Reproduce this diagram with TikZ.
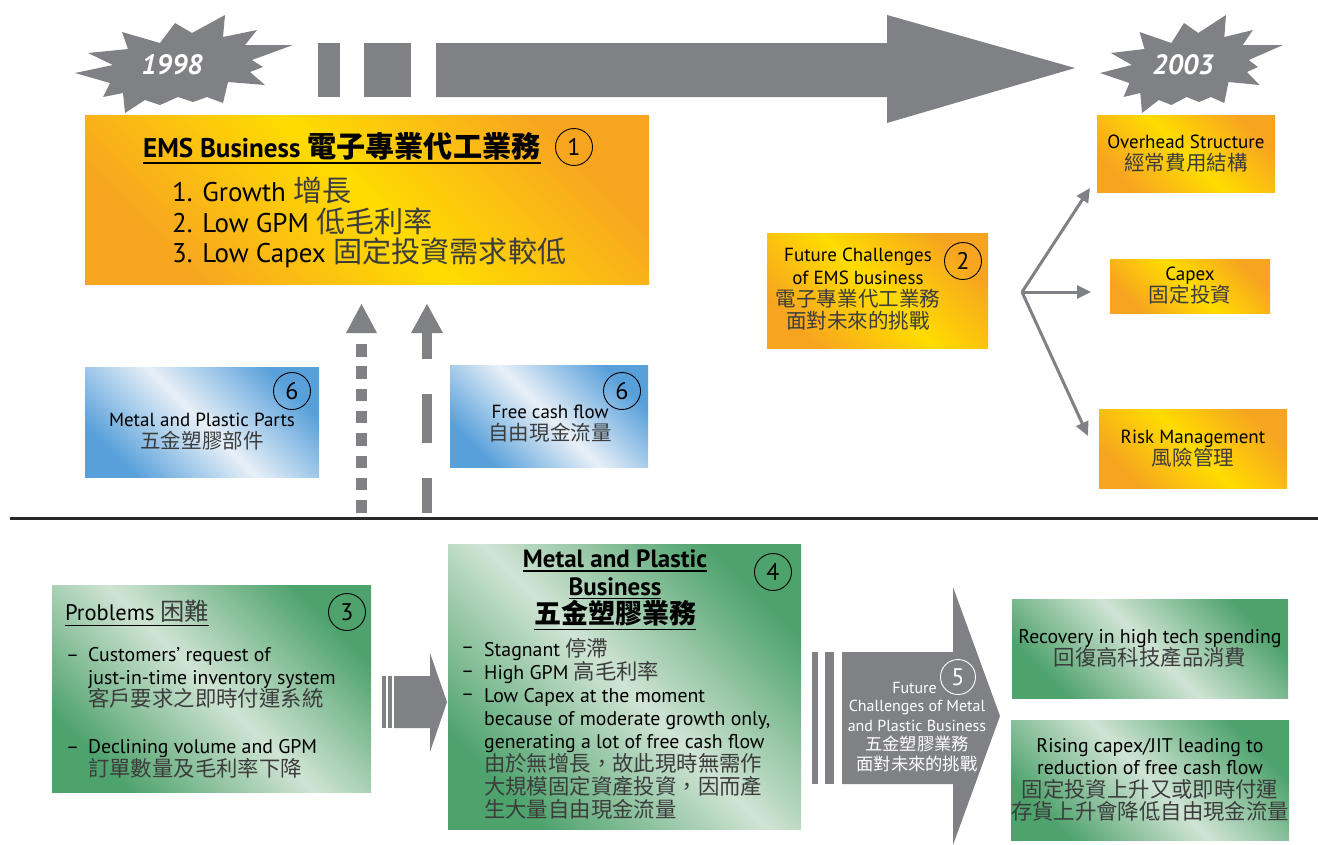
\documentclass[tikz,border=0pt]{standalone}
\usepackage{fontspec}
\setmainfont{PT Sans}
\newfontfamily\cjk[Scale=1.08]{Noto Sans CJK TC}
\usetikzlibrary{arrows.meta,calc}
\definecolor{agray}{RGB}{128,129,133}
\definecolor{cOr}{RGB}{247,164,32}
\definecolor{cYe}{RGB}{255,220,0}
\definecolor{cGr}{RGB}{78,162,108}
\definecolor{cGl}{RGB}{208,228,212}
\definecolor{cBl}{RGB}{88,160,218}
\definecolor{cBll}{RGB}{232,240,248}
\definecolor{cjkc}{RGB}{60,60,60}
\definecolor{rulec}{RGB}{40,40,40}
\newcommand{\zh}[1]{{\cjk\color{cjkc}#1}}
\newcommand{\ulx}[1]{\leavevmode\vtop{\hbox{#1}\kern2.5pt\hrule height 1.4pt}}
\tikzset{
  boxbase/.style={inner sep=0pt, outer sep=0pt},
  obox/.style={boxbase, left color=cOr, right color=cOr, middle color=cYe, shading angle=-45},
  gbox/.style={boxbase, left color=cGr, right color=cGr, middle color=cGl, shading angle=-45},
  bbox/.style={boxbase, left color=cBl, right color=cBl, middle color=cBll, shading angle=-45},
  txt/.style={inner sep=0pt, font=\fontsize{19}{22}\selectfont, align=center},
  btxt/.style={inner sep=0pt, font=\fontsize{19.8}{22.5}\selectfont, align=center},
  num/.style={circle, draw, line width=0.9pt, minimum size=37pt, inner sep=0pt, font=\fontsize{24}{24}\selectfont},
  shapefill/.style={fill=agray, draw=none},
  farrow/.style={draw=agray, line width=3pt, -{Triangle[length=14pt,width=13pt]}},
}
\begin{document}
\begin{tikzpicture}[x=1pt,y=-1pt]
\useasboundingbox (0,0) rectangle (1318,844);

% ---------- timeline ----------
\path[shapefill] (318,43) rectangle (340,97);
\path[shapefill] (364,43) rectangle (411,97);
\path[shapefill] (436,43) -- (887,43) -- (887,15) -- (1075,68) -- (887,123) -- (887,97) -- (436,97) -- cycle;

% starbursts
\def\burstpath{(75,73) -- (113,65) -- (88,53) -- (128,49) -- (122,32) -- (160,43) -- (175,23) -- (192,33) -- (225,15) -- (223,37) -- (257,30) -- (245,45) -- (293,45) -- (252,60) -- (263,67) -- (250,72) -- (265,85) -- (228,82) -- (223,103) -- (207,97) -- (193,102) -- (178,97) -- (160,105) -- (145,100) -- (125,113) -- (123,93) -- (103,97) -- (110,83) -- cycle}
\path[shapefill] \burstpath;
\path[shapefill, shift={(1100,0)}, xscale=0.84, shift={(-75,0)}] \burstpath;
\node[text=white, inner sep=0pt, font=\fontsize{28}{28}\selectfont\bfseries\itshape] (y1998) at (172,65) {1998};
\node[text=white, inner sep=0pt, font=\fontsize{28}{28}\selectfont\bfseries\itshape] (y2003) at (1183,65) {2003};

% ---------- EMS box ----------
\node[obox, minimum width=564pt, minimum height=169pt] (ems) at (367,199.5) {};
\node[anchor=base west, inner sep=0pt, font=\fontsize{27}{30}\selectfont\bfseries] (emsT) at (143,157) {\ulx{EMS Business {\cjk 電子專業代工業務}}};
\node[num] (n1) at (574,147) {1};
\node[anchor=west, inner sep=0pt, align=left, font=\fontsize{27}{30.5}\selectfont] (emsL) at (172,222.5) {1. Growth \zh{增長}\\2. Low GPM \zh{低毛利率}\\3. Low Capex \zh{固定投資需求較低}};

% ---------- Future challenges ----------
\node[obox, minimum width=221pt, minimum height=115pt] (fut) at (877.5,290.5) {};
\node[txt, font=\fontsize{19}{22.3}\selectfont] (futT) at (858,289.5) {Future Challenges\\of EMS business\\\zh{電子專業代工業務}\\\zh{面對未來的挑戰}};
\node[num] (n2) at (963,261) {2};

\node[obox, minimum width=178pt, minimum height=77pt, txt] (ovh) at (1186,153.5) {Overhead Structure\\\zh{經常費用結構}};
\node[obox, minimum width=160pt, minimum height=54pt, txt] (cap) at (1190,286) {Capex\\\zh{固定投資}};
\node[obox, minimum width=188pt, minimum height=79pt, txt] (risk) at (1193,448.5) {Risk Management\\\zh{風險管理}};

\coordinate (fork) at (1022,292);
\coordinate (t1) at (1090,188);
\coordinate (t2) at (1091,292);
\coordinate (t3) at (1088,436);
\draw[farrow] (fork) -- (t1);
\draw[farrow] (fork) -- (t2);
\draw[farrow] (fork) -- (t3);

% ---------- blue boxes ----------
\node[bbox, minimum width=234pt, minimum height=110pt] (mpp) at (202,422) {};
\node[txt] (mppT) at (202,432) {Metal and Plastic Parts\\\zh{五金塑膠部件}};
\node[num] (n6a) at (292,391) {6};
\node[bbox, minimum width=198pt, minimum height=102pt] (fcf) at (549,416) {};
\node[txt] (fcfT) at (550,424) {Free cash flow\\\zh{自由現金流量}};
\node[num] (n6b) at (622,391) {6};

% vertical arrows
\path[shapefill] (346,333) -- (361.5,304) -- (377,333) -- cycle;
\foreach \yy in {344,366.3,...,501} \path[shapefill] (356,\yy) rectangle (367,\yy+12.5);
\path[shapefill] (411,333) -- (427,304) -- (443,333) -- cycle;
\path[shapefill] (422,332) rectangle (432,359);
\path[shapefill] (422,394) rectangle (432,443);
\path[shapefill] (422,478) rectangle (432,513);

% divider
\draw[line width=3pt, rulec] (10,518) -- (1318,518);

% ---------- Problems ----------
\node[gbox, minimum width=319pt, minimum height=207pt] (prob) at (211.5,688.5) {};
\node[anchor=base west, inner sep=0pt, font=\fontsize{22.5}{24}\selectfont] (probT) at (65,620) {\ulx{Problems \zh{困難}}};
\node[num] (n3) at (347,612) {3};
\node[btxt, anchor=west] (d1) at (66,658) {--};
\node[btxt, anchor=west, align=left] (p1) at (88,678) {Customers' request of\\just-in-time inventory system\\\zh{客戶要求之即時付運系統}};
\node[btxt, anchor=west] (d2) at (66,750) {--};
\node[btxt, anchor=west, align=left] (p2) at (88,759) {Declining volume and GPM\\\zh{訂單數量及毛利率下降}};

% arrow 3 -> 4
\path[shapefill] (382,676) rectangle (386,728);
\path[shapefill] (387.5,676) rectangle (392,728);
\path[shapefill] (394,676) -- (430,676) -- (430,653) -- (447,702) -- (430,752) -- (430,728) -- (394,728) -- cycle;

% ---------- Metal and Plastic Business ----------
\node[gbox, minimum width=353pt, minimum height=285pt] (mpb) at (624.5,686.5) {};
\node[txt, font=\fontsize{25}{27.5}\selectfont\bfseries] (mpbT) at (615,590) {\ulx{Metal and Plastic}\\\ulx{Business}\\\ulx{\cjk 五金塑膠業務}};
\node[num] (n4) at (773,572) {4};
\node[btxt, anchor=west] (d3) at (461,650) {--};
\node[btxt, anchor=west] (d4) at (461,674) {--};
\node[btxt, anchor=west] (d5) at (461,697) {--};
\node[btxt, anchor=west, align=left, font=\fontsize{19.8}{23}\selectfont] (mpbL) at (484,728.5) {Stagnant \zh{停滯}\\High GPM \zh{高毛利率}\\Low Capex at the moment\\because of moderate growth only,\\generating a lot of free cash flow\\\zh{由於無增長，故此現時無需作}\\\zh{大規模固定資產投資，因而產}\\\zh{生大量自由現金流量}};

% ---------- arrow 5 ----------
\path[shapefill] (812,652) rectangle (818,784);
\path[shapefill] (825,652) rectangle (834,784);
\path[shapefill] (842,652) -- (953,652) -- (953,587) -- (1000,716) -- (953,845) -- (953,784) -- (842,784) -- cycle;
\node[txt, text=white, font=\fontsize{16}{19.7}\selectfont] (a5T) at (917,736) {Challenges of Metal\\and Plastic Business\\{\cjk 五金塑膠業務}\\{\cjk 面對未來的挑戰}};
\node[anchor=base east, inner sep=0pt, text=white, font=\fontsize{16}{19}\selectfont] (a5F) at (937,693) {Future};
\node[num, draw=white, text=white, minimum size=35pt] (n5) at (958,677) {5};

% ---------- right green boxes ----------
\node[gbox, minimum width=276pt, minimum height=99pt, btxt] (rec) at (1150,648.5) {Recovery in high tech spending\\\zh{回復高科技產品消費}};
\node[gbox, minimum width=276pt, minimum height=120pt, btxt] (ris) at (1150,780) {Rising capex/JIT leading to\\reduction of free cash flow\\\zh{固定投資上升又或即時付運}\\\zh{存貨上升會降低自由現金流量}};
\end{tikzpicture}
\end{document}
